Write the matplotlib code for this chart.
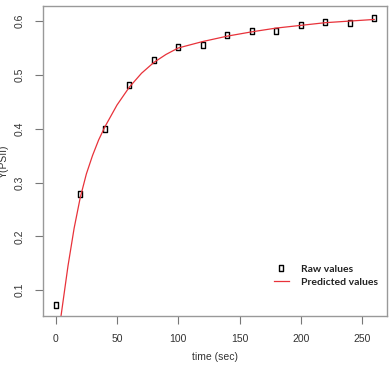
import matplotlib
matplotlib.use("Agg")
import matplotlib.pyplot as plt
from matplotlib.path import Path

# raw measurements
time_raw = [0, 20, 40, 60, 80, 100, 120, 140, 160, 180, 200, 220, 240, 260]
y_raw = [0.072, 0.278, 0.399, 0.481, 0.527, 0.552, 0.555, 0.575, 0.581, 0.582,
         0.593, 0.599, 0.597, 0.606]

# fitted curve
time_pred = [3.5, 4.3, 10, 15, 20, 25, 30, 35, 40, 50, 60, 70, 80, 90, 100, 120, 140,
             160, 180, 200, 220, 240, 260]
y_pred = [0.040, 0.052, 0.145, 0.215, 0.272, 0.316, 0.350, 0.379, 0.403, 0.444, 0.477,
          0.503, 0.523, 0.538, 0.550, 0.562, 0.572, 0.580, 0.587, 0.592, 0.597,
          0.600, 0.603]

x_ticks = [0, 50, 100, 150, 200, 250]
y_ticks = [0.1, 0.2, 0.3, 0.4, 0.5, 0.6]

# tall open rectangle marker
rect = Path([(-0.32, -0.5), (0.32, -0.5), (0.32, 0.5), (-0.32, 0.5), (-0.32, -0.5)],
            [Path.MOVETO, Path.LINETO, Path.LINETO, Path.LINETO, Path.CLOSEPOLY])

plt.rcParams['font.family'] = ['Liberation Sans', 'DejaVu Sans']

fig = plt.figure(figsize=(3.92, 3.66), dpi=100)
ax = fig.add_axes([43/392, 1-316/366, 344/392, 310/366])

ax.plot(time_raw, y_raw, linestyle='none', marker=rect, markersize=4.6,
        markerfacecolor='none', markeredgecolor='black', markeredgewidth=1.0,
        label='Raw values')
ax.plot(time_pred, y_pred, color='#e8323a', lw=0.9, label='Predicted values')

ax.set_xlim(-10.4, 270.4)
ax.set_ylim(0.052, 0.628)
ax.set_xticks(x_ticks)
ax.set_yticks(y_ticks)
ax.set_yticklabels([str(v) for v in y_ticks], rotation=90, va='center')

for s in ax.spines.values():
    s.set_color('#999999')
    s.set_linewidth(1.0)
ax.tick_params(direction='out', length=6, width=0.8, color='#777777',
               labelsize=7.5, labelcolor='#333333', pad=7)

ax.set_xlabel('time (sec)', fontsize=7.5, color='#333333', labelpad=6)
ax.set_ylabel('Y(PSII)', fontsize=7.5, color='#333333')
ax.yaxis.set_label_coords(-0.1, 0.5)

leg = ax.legend(loc='center left', bbox_to_anchor=(0.655, 0.13), frameon=False,
                prop={'family': 'Lato', 'weight': 'bold', 'size': 7.5},
                handlelength=1.5, handletextpad=1.1, borderpad=0, labelspacing=0.35)
for t in leg.get_texts():
    t.set_color('#222222')

fig.savefig('out.png', dpi=100)
